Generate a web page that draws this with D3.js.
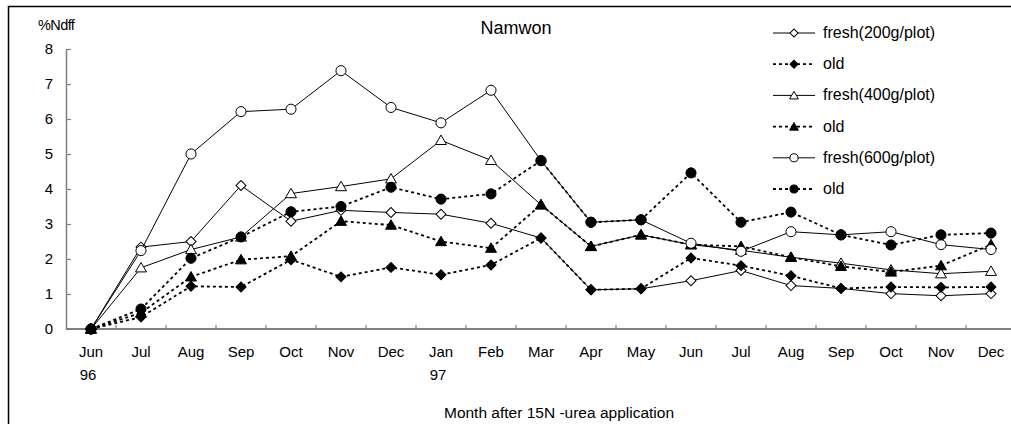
<!DOCTYPE html>
<html>
<head>
<meta charset="utf-8">
<script src="https://cdn.jsdelivr.net/npm/d3@7"></script>
<style>
  body { margin: 0; background: #fff; }
  text { font-family: "Liberation Sans", Arial, sans-serif; fill: #000; }
</style>
</head>
<body>
<div id="chart"></div>
<script>
var months = ["Jun", "Jul", "Aug", "Sep", "Oct", "Nov", "Dec", "Jan", "Feb", "Mar",
              "Apr", "May", "Jun ", "Jul ", "Aug ", "Sep ", "Oct ", "Nov ", "Dec "];
var yearLabels = { 0: "96", 7: "97" };
var yTicks = [0, 1, 2, 3, 4, 5, 6, 7, 8];

var fresh200 = [0, 2.34, 2.50, 4.10, 3.08, 3.39, 3.33, 3.28, 3.02, 2.60, 1.12, 1.15, 1.38, 1.67, 1.24, 1.16, 1.01, 0.95, 1.01];
var old200   = [0, 0.34, 1.22, 1.20, 1.98, 1.49, 1.76, 1.55, 1.83, 2.60, 1.12, 1.15, 2.03, 1.81, 1.52, 1.16, 1.20, 1.19, 1.20];
var fresh400 = [0, 1.75, 2.27, 2.63, 3.87, 4.07, 4.29, 5.39, 4.82, 3.55, 2.36, 2.69, 2.41, 2.25, 2.05, 1.88, 1.69, 1.58, 1.65];
var old400   = [0, 0.46, 1.49, 1.98, 2.08, 3.08, 2.97, 2.50, 2.31, 3.55, 2.36, 2.69, 2.41, 2.36, 2.05, 1.79, 1.63, 1.81, 2.41];
var fresh600 = [0, 2.24, 5.00, 6.21, 6.28, 7.38, 6.33, 5.89, 6.82, 4.81, 3.05, 3.12, 2.45, 2.22, 2.78, 2.69, 2.78, 2.41, 2.27];
var old600   = [0, 0.57, 2.02, 2.63, 3.35, 3.50, 4.05, 3.71, 3.86, 4.81, 3.05, 3.12, 4.46, 3.05, 3.34, 2.69, 2.40, 2.69, 2.74];

var seriesNames = ["fresh(200g/plot)", "old", "fresh(400g/plot)", "old", "fresh(600g/plot)", "old"];

var series = [
  { name: seriesNames[0], values: fresh200, shape: "diamond",  filled: false, dashed: false },
  { name: seriesNames[1], values: old200,   shape: "diamond",  filled: true,  dashed: true },
  { name: seriesNames[2], values: fresh400, shape: "triangle", filled: false, dashed: false },
  { name: seriesNames[3], values: old400,   shape: "triangle", filled: true,  dashed: true },
  { name: seriesNames[4], values: fresh600, shape: "circle",   filled: false, dashed: false },
  { name: seriesNames[5], values: old600,   shape: "circle",   filled: true,  dashed: true }
];

var W = 1011, H = 424;
var svg = d3.select("#chart").append("svg")
    .attr("width", W).attr("height", H);

// frame
svg.append("rect")
    .attr("x", 8.5).attr("y", 6.5)
    .attr("width", 1010).attr("height", 425)
    .attr("fill", "none").attr("stroke", "#000").attr("stroke-width", 1.5);

var x = d3.scaleBand().domain(months).range([66, 1016]);
var y = d3.scaleLinear().domain([0, 8]).range([329, 49]);
var cx = function (i) { return x(months[i]) + x.bandwidth() / 2; };

// y axis
var yAxis = svg.append("g")
    .attr("transform", "translate(66,0)")
    .call(d3.axisLeft(y).tickValues(yTicks).tickSizeInner(-5).tickSizeOuter(0).tickPadding(13));
yAxis.select(".domain").attr("stroke", "#808080").attr("stroke-width", 1.5);
yAxis.selectAll(".tick line").attr("stroke", "#808080").attr("stroke-width", 1.2);
yAxis.selectAll(".tick text")
    .style("font-size", "15px").attr("fill", "#000");

// x axis line + boundary ticks
var xg = svg.append("g");
xg.append("line")
    .attr("x1", 66).attr("x2", 1016)
    .attr("y1", 329).attr("y2", 329)
    .attr("stroke", "#808080").attr("stroke-width", 2);
xg.selectAll(".bt")
    .data(months.slice(1))
    .enter().append("line")
    .attr("x1", function (d) { return x(d); })
    .attr("x2", function (d) { return x(d); })
    .attr("y1", 329).attr("y2", 325)
    .attr("stroke", "#808080").attr("stroke-width", 1.2);
xg.selectAll(".ml")
    .data(months)
    .enter().append("text")
    .attr("x", function (d) { return x(d) + x.bandwidth() / 2; })
    .attr("y", 357)
    .attr("text-anchor", "middle")
    .style("font-size", "15px")
    .text(function (d) { return d.trim(); });
Object.keys(yearLabels).forEach(function (k) {
  xg.append("text")
      .attr("x", cx(+k) - 3)
      .attr("y", 380)
      .attr("text-anchor", "middle")
      .style("font-size", "15px")
      .text(yearLabels[k]);
});

// titles
svg.append("text").attr("x", 516).attr("y", 34).attr("text-anchor", "middle")
    .style("font-size", "18px").text("Namwon");
svg.append("text").attr("x", 38).attr("y", 30)
    .style("font-size", "14.5px").style("letter-spacing", "-0.6px").text("%Ndff");
svg.append("text").attr("x", 559).attr("y", 418).attr("text-anchor", "middle")
    .style("font-size", "15.5px").text("Month after 15N -urea application");

function symbolPath(shape, scale) {
  if (shape === "circle") return d3.symbol(d3.symbolCircle, 80 * scale * scale)();
  if (shape === "triangle") return d3.symbol(d3.symbolTriangle, 52 * scale * scale)();
  return d3.symbol(d3.symbolSquare, 50 * scale * scale)();
}

var line = d3.line()
    .x(function (d, i) { return cx(i); })
    .y(function (d) { return y(d); });

series.forEach(function (s) {
  var g = svg.append("g");
  g.append("path")
      .datum(s.values)
      .attr("d", line)
      .attr("fill", "none")
      .attr("stroke", "#000")
      .attr("stroke-width", s.dashed ? 1.8 : 1)
      .attr("stroke-dasharray", s.dashed ? "3,3" : null);
  g.selectAll("path.m")
      .data(s.values)
      .enter().append("path")
      .attr("class", "m")
      .attr("d", symbolPath(s.shape, 1))
      .attr("transform", function (d, i) {
        var t = "translate(" + cx(i) + "," + (y(d) + (s.shape === "triangle" ? 1 : 0)) + ")";
        return s.shape === "diamond" ? t + " rotate(45)" : t;
      })
      .attr("fill", s.filled ? "#000" : "#fff")
      .attr("stroke", "#000")
      .attr("stroke-width", 1);
});

// legend
var legend = svg.append("g");
series.forEach(function (s, i) {
  var ly = 33 + i * 31.2;
  var row = legend.append("g").attr("transform", "translate(0," + ly + ")");
  row.append("line")
      .attr("x1", 773).attr("x2", 815).attr("y1", 0).attr("y2", 0)
      .attr("stroke", "#000")
      .attr("stroke-width", s.dashed ? 1.8 : 1)
      .attr("stroke-dasharray", s.dashed ? "3,3" : null);
  row.append("path")
      .attr("d", symbolPath(s.shape, 0.8))
      .attr("transform", "translate(794," + (s.shape === "triangle" ? 1 : 0) + ")" + (s.shape === "diamond" ? " rotate(45)" : ""))
      .attr("fill", s.filled ? "#000" : "#fff")
      .attr("stroke", "#000");
  row.append("text")
      .attr("x", 823).attr("y", 5)
      .style("font-size", "16px")
      .text(s.name);
});
</script>
</body>
</html>
